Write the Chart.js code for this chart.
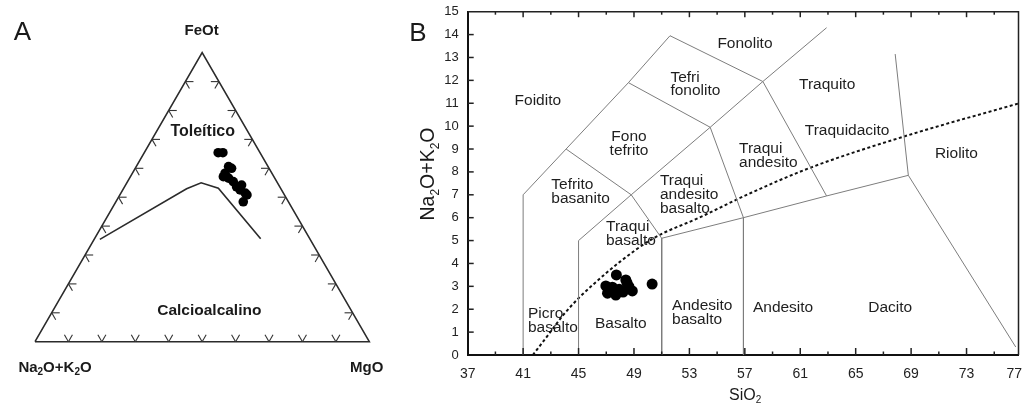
<!DOCTYPE html>
<html>
<head>
<meta charset="utf-8">
<script src="https://cdn.jsdelivr.net/npm/chart.js@4.4.1/dist/chart.umd.min.js"></script>
<style>
  html, body { margin: 0; padding: 0; background: #fff; width: 1024px; height: 405px; overflow: hidden; }
  #afm { position: absolute; left: 0; top: 0; }
  #tas { position: absolute; left: 400px; top: 0; }
</style>
</head>
<body>
<canvas id="afm" width="400" height="405"></canvas>
<canvas id="tas" width="624" height="405"></canvas>
<script>
// ---------- A: AFM diagram (wt% normalised to 100) ----------
const afmFeOt = [65.4, 65.4, 60.6, 60.0, 58.3, 57.1, 56.6, 55.4, 53.6, 54.2, 52.5, 51.4, 50.8, 48.4];
const afmMgO  = [22.1, 23.5, 27.6, 28.8, 27.7, 27.8, 29.6, 31.6, 33.5, 34.7, 35.1, 37.2, 38.0, 38.1];
const afmAlk  = [12.5, 11.1, 11.8, 11.2, 14.0, 15.1, 13.8, 13.0, 12.9, 11.1, 12.4, 11.4, 11.2, 13.5];

// tholeiitic / calc-alkaline divide
const divideFeOt = [35.4, 52.9, 55.0, 53.1, 35.6];
const divideMgO  = [1.7, 18.9, 22.2, 28.3, 49.7];
const divideAlk  = [62.9, 28.2, 22.8, 18.6, 14.7];

// apexes: Na2O+K2O, FeOt, MgO
const apexFeOt = [0, 100, 0];
const apexMgO  = [0, 0, 100];
const apexAlk  = [100, 0, 0];

// tick marks every 10 %
const afmTickValues = [10, 20, 30, 40, 50, 60, 70, 80, 90];

// ---------- B: TAS diagram ----------
const tasSiO2 = [46.97, 47.09, 47.69, 47.93, 48.41, 48.64, 48.88, 47.44, 47.73, 50.31, 47.28, 48.21, 48.50];
const tasAlk  = [3.02, 2.70, 2.62, 2.87, 3.28, 2.99, 2.80, 2.96, 3.50, 3.10, 2.84, 2.75, 3.15];

// alkaline / subalkaline divide
const alkDivideSiO2 = [41.7, 42.8, 43.9, 45.0, 46.0, 48.0, 50.4, 53.7, 57.5, 61.8, 68.5, 76.8];
const alkDivideAlk  = [0, 0.87, 1.75, 2.48, 3.05, 4.08, 5.1, 6.0, 7.1, 8.2, 9.55, 11.0];

// field boundaries, each as [SiO2 list, Na2O+K2O list]
const fieldLines = [
  [[41, 41, 44.1, 48.6, 51.6, 58.3, 62.9], [0, 7, 9.0, 11.9, 13.95, 11.95, 6.95]],
  [[45, 45, 48.8, 54.5, 58.3, 62.9], [0, 5, 7.0, 9.95, 11.95, 14.3]],
  [[44.1, 48.8, 51, 51], [9.0, 7.0, 5.1, 0]],
  [[48.6, 54.5, 56.9, 56.9], [11.9, 9.95, 6.0, 0]],
  [[51, 56.9, 62.9, 68.8, 76.55], [5.1, 6.0, 6.95, 7.85, 0.35]],
  [[68.8, 67.85], [7.85, 13.15]]
];

const xTickLabels = [37, 41, 45, 49, 53, 57, 61, 65, 69, 73, 77];
const xMinorTicks = [39, 43, 47, 51, 55, 59, 63, 67, 71, 75];
const yTickLabels = [0, 1, 2, 3, 4, 5, 6, 7, 8, 9, 10, 11, 12, 13, 14, 15];

const fieldNames = [
  ['Foidito'], ['Fono', 'tefrito'], ['Tefri', 'fonolito'], ['Tefrito', 'basanito'],
  ['Traqui', 'andesito', 'basalto'], ['Traqui', 'basalto'], ['Picro', 'basalto'], ['Basalto'],
  ['Andesito', 'basalto'], ['Fonolito'], ['Traquito'], ['Traquidacito'],
  ['Traqui', 'andesito'], ['Riolito'], ['Andesito'], ['Dacito']
];

// ---------- helpers ----------
const FONT = '"Liberation Sans", Arial, Helvetica, sans-serif';
const H = Math.sqrt(3) / 2;

function project(a, f, m) {
  const t = a + f + m;
  return { x: 100 * (m + f / 2) / t, y: 100 * H * f / t };
}

// text with subscripts; y is the middle of the capitals
function drawRich(ctx, parts, x, y, size, weight, align) {
  const big = `${weight} ${size}px ${FONT}`;
  const small = `${weight} ${Math.round(size * 0.64)}px ${FONT}`;
  let w = 0;
  parts.forEach(p => { ctx.font = p[1] ? small : big; w += ctx.measureText(p[0]).width; });
  let cx = align === 'center' ? x - w / 2 : (align === 'right' ? x - w : x);
  const base = y + size * 0.358;
  ctx.textAlign = 'left';
  ctx.textBaseline = 'alphabetic';
  parts.forEach(p => {
    ctx.font = p[1] ? small : big;
    ctx.fillText(p[0], cx, p[1] ? base + size * 0.22 : base);
    cx += ctx.measureText(p[0]).width;
  });
}

function drawText(ctx, txt, x, y, size, weight, align) {
  drawRich(ctx, [[txt, 0]], x, y, size, weight, align);
}

// ---------- A chart ----------
const triangle = [0, 1, 2, 0].map(i => project(apexAlk[i], apexFeOt[i], apexMgO[i]));
const divide = divideFeOt.map((f, i) => project(divideAlk[i], f, divideMgO[i]));
const afmPoints = afmFeOt.map((f, i) => project(afmAlk[i], f, afmMgO[i]));

const afmTicks = {
  id: 'afmTicks',
  afterDatasetsDraw(chart) {
    const { ctx, scales: { x, y } } = chart;
    const L = 2.4;
    const P = (a, f, m) => { const p = project(a, f, m); return [x.getPixelForValue(p.x), y.getPixelForValue(p.y)]; };
    const seg = (p, q) => { ctx.beginPath(); ctx.moveTo(p[0], p[1]); ctx.lineTo(q[0], q[1]); ctx.stroke(); };
    ctx.save();
    ctx.strokeStyle = '#333';
    ctx.lineWidth = 1.1;
    afmTickValues.forEach(v => {
      seg(P(100 - v, 0, v), P(100 - v - L, L, v));
      seg(P(100 - v, 0, v), P(100 - v, L, v - L));
      seg(P(100 - v, v, 0), P(100 - v - L, v, L));
      seg(P(100 - v, v, 0), P(100 - v, v - L, L));
      seg(P(0, v, 100 - v), P(L, v, 100 - v - L));
      seg(P(0, v, 100 - v), P(L, v - L, 100 - v));
    });
    ctx.restore();
  }
};

const afmText = {
  id: 'afmText',
  afterDraw(chart) {
    const ctx = chart.ctx;
    ctx.save();
    ctx.fillStyle = '#1a1a1a';
    drawText(ctx, 'A', 22.5, 31, 26, 'normal', 'center');
    drawText(ctx, 'FeOt', 201.7, 29.5, 15, 'bold', 'center');
    drawRich(ctx, [['Na', 0], ['2', 1], ['O+K', 0], ['2', 1], ['O', 0]], 55, 366.7, 15, 'bold', 'center');
    drawText(ctx, 'MgO', 366.7, 366.7, 15, 'bold', 'center');
    drawText(ctx, 'Toleítico', 202.7, 130, 16, 'bold', 'center');
    drawText(ctx, 'Calcioalcalino', 209.3, 309.3, 15.5, 'bold', 'center');
    ctx.restore();
  }
};

new Chart(document.getElementById('afm'), {
  type: 'scatter',
  data: {
    datasets: [
      { data: triangle, showLine: true, borderColor: '#2b2b2b', borderWidth: 1.6, pointRadius: 0, fill: false, clip: false },
      { data: divide, showLine: true, borderColor: '#2b2b2b', borderWidth: 1.6, pointRadius: 0, fill: false, clip: false },
      { data: afmPoints, pointRadius: 4.8, pointBackgroundColor: '#000', pointBorderWidth: 0, clip: false }
    ]
  },
  options: {
    responsive: false,
    animation: false,
    devicePixelRatio: 1,
    layout: { padding: { left: 35, right: 30.7, top: 52.7, bottom: 63.3 } },
    scales: {
      x: { type: 'linear', min: 0, max: 100, display: false },
      y: { type: 'linear', min: 0, max: 100 * H, display: false }
    },
    plugins: { legend: { display: false }, tooltip: { enabled: false } }
  },
  plugins: [afmTicks, afmText]
});

// ---------- B chart ----------
const toXY = (xs, ys) => xs.map((v, i) => ({ x: v, y: ys[i] }));

const tasDatasets = fieldLines.map(([xs, ys]) => ({
  data: toXY(xs, ys), showLine: true, borderColor: '#7d7d7d', borderWidth: 1, pointRadius: 0, fill: false
}));
tasDatasets.push({
  data: toXY(alkDivideSiO2, alkDivideAlk), showLine: true, borderColor: '#111', borderWidth: 2,
  borderDash: [3, 2.5], pointRadius: 0, fill: false, cubicInterpolationMode: 'monotone'
});
tasDatasets.push({
  data: toXY(tasSiO2, tasAlk), pointRadius: 5.5, pointBackgroundColor: '#000', pointBorderWidth: 0
});

const fieldAnchors = [
  { x: 42.06, y: 11.15, a: 'center' }, { x: 48.64, y: 9.28, a: 'center' }, { x: 51.63, y: 11.89, a: 'left' },
  { x: 43.03, y: 7.2, a: 'left' }, { x: 50.87, y: 7.07, a: 'left' }, { x: 46.98, y: 5.35, a: 'left' },
  { x: 41.35, y: 1.56, a: 'left' }, { x: 48.05, y: 1.41, a: 'center' }, { x: 51.75, y: 1.92, a: 'left' },
  { x: 57.01, y: 13.66, a: 'center' }, { x: 62.94, y: 11.88, a: 'center' }, { x: 64.38, y: 9.84, a: 'center' },
  { x: 56.58, y: 8.78, a: 'left' }, { x: 72.27, y: 8.86, a: 'center' }, { x: 59.76, y: 2.11, a: 'center' },
  { x: 67.49, y: 2.11, a: 'center' }
];

const tasDecor = {
  id: 'tasDecor',
  beforeDatasetsDraw(chart) {
    const { ctx, scales: { x, y } } = chart;
    ctx.save();
    ctx.fillStyle = '#1e1e1e';
    const lh = 13.8;
    fieldNames.forEach((lines, i) => {
      const an = fieldAnchors[i];
      const px = x.getPixelForValue(an.x);
      const py = y.getPixelForValue(an.y);
      const top = py - (lines.length - 1) * lh / 2;
      lines.forEach((t, j) => drawText(ctx, t, px, top + j * lh, 15.5, 'normal', an.a));
    });
    ctx.restore();
  },
  afterDraw(chart) {
    const { ctx, chartArea: a, scales: { x, y } } = chart;
    ctx.save();
    ctx.strokeStyle = '#222';
    ctx.lineWidth = 1.5;
    ctx.beginPath();
    ctx.moveTo(a.left, a.top);
    ctx.lineTo(a.right, a.top);
    ctx.lineTo(a.right, a.bottom);
    ctx.stroke();
    const tick = (x0, y0, x1, y1) => { ctx.beginPath(); ctx.moveTo(x0, y0); ctx.lineTo(x1, y1); ctx.stroke(); };
    const inX = v => v > x.min && v < x.max;
    xTickLabels.filter(inX).forEach(v => {
      const p = x.getPixelForValue(v);
      tick(p, a.bottom, p, a.bottom - 7);
      tick(p, a.top, p, a.top + 5.5);
    });
    xMinorTicks.filter(inX).forEach(v => {
      const p = x.getPixelForValue(v);
      tick(p, a.bottom, p, a.bottom - 3.5);
      tick(p, a.top, p, a.top + 3);
    });
    yTickLabels.filter(v => v > y.min && v < y.max).forEach(v => {
      const p = y.getPixelForValue(v);
      tick(a.left, p, a.left + 6, p);
    });

    ctx.fillStyle = '#1a1a1a';
    drawText(ctx, 'B', 18, 31.5, 26, 'normal', 'center');
    drawRich(ctx, [['SiO', 0], ['2', 1]], (a.left + a.right) / 2 + 2, 394, 16, 'normal', 'center');
    ctx.translate(27.5, 174);
    ctx.rotate(-Math.PI / 2);
    drawRich(ctx, [['Na', 0], ['2', 1], ['O+K', 0], ['2', 1], ['O', 0]], 0, 0, 19.5, 'normal', 'center');
    ctx.restore();
  }
};

new Chart(document.getElementById('tas'), {
  type: 'scatter',
  data: { datasets: tasDatasets },
  options: {
    responsive: false,
    animation: false,
    devicePixelRatio: 1,
    layout: { padding: { left: 0, right: 2, top: 11.7, bottom: 0 } },
    scales: {
      x: {
        type: 'linear', min: 37, max: 76.75,
        afterBuildTicks: s => { s.ticks = xTickLabels.map(v => ({ value: v })); },
        afterFit: s => { s.height = 50; s.paddingLeft = 0; s.paddingRight = 0; },
        grid: { display: false, drawTicks: false },
        border: { display: true, color: '#111', width: 2 },
        ticks: {
          autoSkip: false, maxRotation: 0, minRotation: 0, padding: 11, color: '#222',
          font: { family: FONT, size: 14 },
          callback: v => (v === xTickLabels[xTickLabels.length - 1] ? v + '    ' : String(v))
        }
      },
      y: {
        type: 'linear', min: 0, max: 15,
        afterBuildTicks: s => { s.ticks = yTickLabels.map(v => ({ value: v })); },
        afterFit: s => { s.width = 67.7; s.paddingTop = 0; s.paddingBottom = 0; },
        grid: { display: false, drawTicks: false },
        border: { display: true, color: '#111', width: 2 },
        ticks: { autoSkip: false, padding: 9, color: '#222', font: { family: FONT, size: 13 } }
      }
    },
    plugins: { legend: { display: false }, tooltip: { enabled: false } }
  },
  plugins: [tasDecor]
});
</script>
</body>
</html>
